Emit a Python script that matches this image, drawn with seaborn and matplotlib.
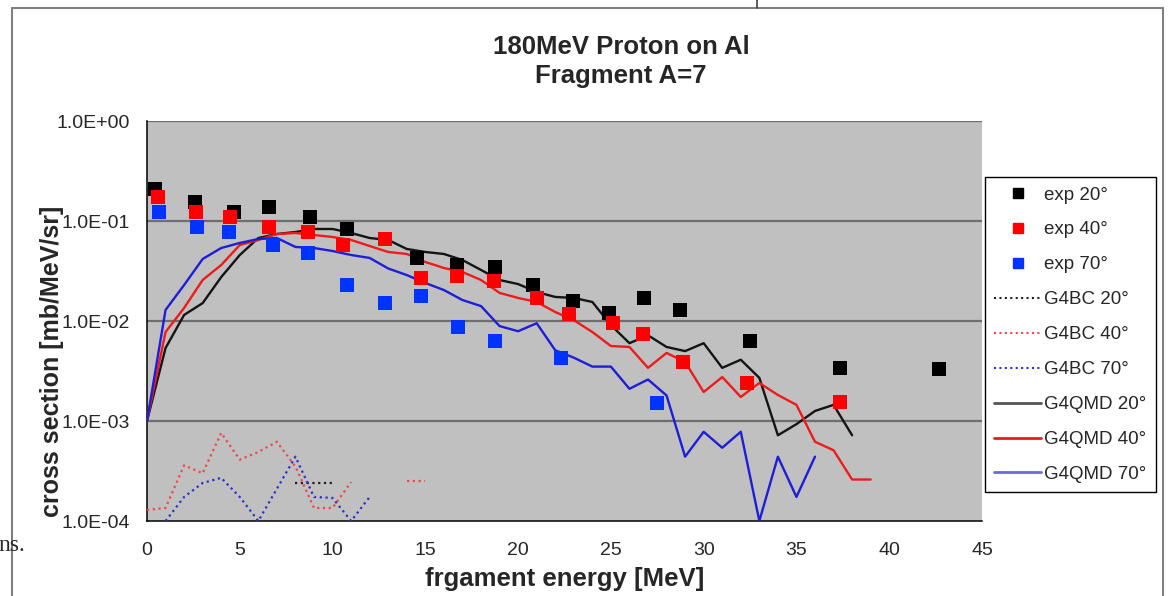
import numpy as np
import pandas as pd
import matplotlib
matplotlib.use("Agg")
import matplotlib.pyplot as plt
import seaborn as sns
from matplotlib.lines import Line2D

# ---------------- data ----------------
exp20_x = [0.43, 2.6, 4.71, 6.6, 8.77, 10.77, 14.56, 16.73, 18.73, 20.79, 22.96, 24.91, 26.8, 28.7, 32.5, 37.36, 42.66]
exp20_y = [0.209, 0.155, 0.123, 0.138, 0.110, 0.083, 0.043, 0.036, 0.035, 0.023, 0.016, 0.012, 0.017, 0.0129, 0.0063, 0.0034, 0.0033]

exp40_x = [0.6, 2.65, 4.49, 6.6, 8.66, 10.56, 12.83, 14.78, 16.73, 18.68, 21.0, 22.74, 25.12, 26.75, 28.86, 32.32, 37.36]
exp40_y = [0.174, 0.123, 0.110, 0.087, 0.078, 0.058, 0.066, 0.027, 0.028, 0.025, 0.017, 0.0117, 0.0095, 0.0074, 0.0039, 0.0024, 0.00155]

exp70_x = [0.65, 2.71, 4.44, 6.77, 8.66, 10.77, 12.83, 14.78, 16.78, 18.73, 22.31, 27.5]
exp70_y = [0.123, 0.087, 0.078, 0.058, 0.048, 0.023, 0.015, 0.0178, 0.0087, 0.0063, 0.0043, 0.0015]

bc20_x = [8, 9, 10]
bc20_y = [2.4e-4, 2.4e-4, 2.4e-4]

bc40_x = [0, 1, 2, 3, 4, 5, 6, 7, 8, 9, 10, 11]
bc40_y = [1.29e-4, 1.35e-4, 3.6e-4, 3.0e-4, 7.6e-4, 4.1e-4, 4.9e-4, 6.2e-4, 3.5e-4, 1.35e-4, 1.35e-4, 2.45e-4]
bc40b_x = [14, 15]
bc40b_y = [2.5e-4, 2.5e-4]

bc70_x = [1, 2, 3, 4, 5, 6, 7, 8, 9, 10, 11, 12]
bc70_y = [1.0e-4, 1.74e-4, 2.4e-4, 2.7e-4, 1.74e-4, 1.0e-4, 2.1e-4, 4.4e-4, 1.74e-4, 1.7e-4, 1.0e-4, 1.74e-4]

qmd20_x = list(range(0, 39))
qmd20_y = [0.0010, 0.00537, 0.0115, 0.0151, 0.0275, 0.0457, 0.0676, 0.0741, 0.0776, 0.0832,
           0.0832, 0.0759, 0.0676, 0.0646, 0.0525, 0.0490, 0.0468, 0.0407, 0.0324, 0.0257,
           0.0234, 0.0195, 0.0174, 0.0170, 0.0155, 0.0091, 0.0060, 0.0072, 0.0055, 0.0050,
           0.0060, 0.0034, 0.0041, 0.0027, 0.00072, 0.00093, 0.00126, 0.00145, 0.00072]

qmd40_x = list(range(0, 40))
qmd40_y = [0.0010, 0.00776, 0.0135, 0.0257, 0.0363, 0.0575, 0.0646, 0.0741, 0.0759, 0.0724,
           0.0692, 0.0646, 0.0562, 0.0490, 0.0468, 0.0389, 0.0339, 0.0309, 0.0257, 0.0191,
           0.0170, 0.0155, 0.0123, 0.0102, 0.00776, 0.00562, 0.0055, 0.0034, 0.00479, 0.00389,
           0.00195, 0.00275, 0.00174, 0.0024, 0.00182, 0.00145, 0.00062, 0.00051, 0.00026, 0.00026]

qmd70_x = list(range(0, 37))
qmd70_y = [0.0010, 0.0129, 0.0229, 0.0417, 0.0537, 0.0603, 0.0661, 0.0676, 0.0550, 0.0537,
           0.0501, 0.0457, 0.0427, 0.0335, 0.0288, 0.0240, 0.0204, 0.0162, 0.0141, 0.0089,
           0.0079, 0.0095, 0.0051, 0.0043, 0.0035, 0.0035, 0.0021, 0.0026, 0.0018, 0.00044,
           0.00078, 0.00054, 0.00078, 0.0001, 0.00044, 0.000174, 0.00044]

xticks = [0, 5, 10, 15, 20, 25, 30, 35, 40, 45]
yticks = [1e-4, 1e-3, 1e-2, 1e-1, 1e0]
ytick_labels = ["1.0E-04", "1.0E-03", "1.0E-02", "1.0E-01", "1.0E+00"]

title_line1 = "180MeV Proton on Al"
title_line2 = "Fragment A=7"
xlabel = "frgament energy [MeV]"
ylabel = "cross section [mb/MeV/sr]"

labels = ["exp 20°", "exp 40°", "exp 70°", "G4BC 20°", "G4BC 40°", "G4BC 70°",
          "G4QMD 20°", "G4QMD 40°", "G4QMD 70°"]

# ---------------- style ----------------
sns.set_style("white")
plt.rcParams['font.family'] = ['Liberation Sans', 'DejaVu Sans']

W, H = 1169, 596
fig = plt.figure(figsize=(W / 100, H / 100), dpi=100)
fig.patch.set_facecolor("white")

L, R, T, B = 147, 982, 121, 521
ax = fig.add_axes([L / W, 1 - B / H, (R - L) / W, (B - T) / H])
ax.set_facecolor("#C0C0C0")

C_BLACK, C_RED, C_BLUE = "#000000", "#FF0000", "#0033FF"
L_BLACK, L_RED, L_BLUE = "#141414", "#EE1B1B", "#1E1ED8"
D_BLACK, D_RED, D_BLUE = "#202020", "#F04848", "#3030C8"

# grid lines at decades
for yv in yticks[1:]:
    ax.axhline(yv, color="#6E6E6E", lw=1.6, zorder=1)

dot = (0, (1, 1.6))
sns.lineplot(x=bc20_x, y=bc20_y, ax=ax, color=D_BLACK, lw=1.6, linestyle=dot, zorder=3)
sns.lineplot(x=bc40_x, y=bc40_y, ax=ax, color=D_RED, lw=1.6, linestyle=dot, zorder=3)
sns.lineplot(x=bc40b_x, y=bc40b_y, ax=ax, color=D_RED, lw=1.6, linestyle=dot, zorder=3)
sns.lineplot(x=bc70_x, y=bc70_y, ax=ax, color=D_BLUE, lw=1.6, linestyle=dot, zorder=3)

sns.lineplot(x=qmd20_x, y=qmd20_y, ax=ax, color=L_BLACK, lw=1.7, zorder=4)
sns.lineplot(x=qmd40_x, y=qmd40_y, ax=ax, color=L_RED, lw=1.7, zorder=4)
sns.lineplot(x=qmd70_x, y=qmd70_y, ax=ax, color=L_BLUE, lw=1.7, zorder=4)

sns.scatterplot(x=exp20_x, y=exp20_y, ax=ax, color=C_BLACK, marker="s", s=110, linewidth=0, zorder=5)
sns.scatterplot(x=exp40_x, y=exp40_y, ax=ax, color=C_RED, marker="s", s=110, linewidth=0, zorder=6)
sns.scatterplot(x=exp70_x, y=exp70_y, ax=ax, color=C_BLUE, marker="s", s=110, linewidth=0, zorder=7)

ax.set_yscale("log")
ax.set_xlim(0, 45)
ax.set_ylim(1e-4, 1)
ax.set_xticks(xticks)
ax.set_xticklabels([str(v) for v in xticks])
ax.set_yticks(yticks)
ax.set_yticklabels(ytick_labels)
ax.minorticks_off()
ax.tick_params(axis="y", direction="out", length=6, width=1, color="black",
               labelsize=14, pad=6)
ax.tick_params(axis="x", direction="out", length=5, width=1, color="black",
               labelsize=14, pad=10)
for side in ["top", "right"]:
    ax.spines[side].set_visible(False)
for side in ["left", "bottom"]:
    ax.spines[side].set_color("black")
    ax.spines[side].set_linewidth(1.1)
ax.set_xlabel(xlabel, fontsize=18.5, fontweight="bold", labelpad=6)
ax.set_ylabel(ylabel, fontsize=18, fontweight="bold")
ax.yaxis.set_label_coords((64 - L) / (R - L), (B - 361) / (B - T))

fig.text(621 / W, 1 - 54 / H, title_line1, ha="center", va="baseline",
         fontsize=18.5, fontweight="bold")
fig.text(621 / W, 1 - 83 / H, title_line2, ha="center", va="baseline",
         fontsize=18.5, fontweight="bold")

# legend
handles = [
    Line2D([], [], ls="none", marker="s", ms=7, color=C_BLACK),
    Line2D([], [], ls="none", marker="s", ms=7, color=C_RED),
    Line2D([], [], ls="none", marker="s", ms=7, color=C_BLUE),
    Line2D([], [], ls=dot, lw=1.5, color=D_BLACK),
    Line2D([], [], ls=dot, lw=1.5, color=D_RED),
    Line2D([], [], ls=dot, lw=1.5, color=D_BLUE),
    Line2D([], [], lw=2, color="#555555"),
    Line2D([], [], lw=2, color=L_RED),
    Line2D([], [], lw=2, color="#6A6AD8"),
]
leg = fig.legend(handles, labels, loc="upper left",
                 bbox_to_anchor=(985 / W, 1 - 177 / H), fontsize=13.5,
                 frameon=True, fancybox=False, framealpha=1, edgecolor="black",
                 handlelength=2.5, handletextpad=0.15, labelspacing=0.95,
                 borderpad=0.5, borderaxespad=0)
leg.get_frame().set_linewidth(1.0)

# chart-area border and page remnants
bc = "#808080"
fig.add_artist(Line2D([12 / W, 12 / W], [0, 1 - 8 / H], color=bc, lw=1.5, transform=fig.transFigure))
fig.add_artist(Line2D([12 / W, 1163 / W], [1 - 8 / H, 1 - 8 / H], color=bc, lw=1.5, transform=fig.transFigure))
fig.add_artist(Line2D([1163 / W, 1163 / W], [0, 1 - 8 / H], color=bc, lw=1.5, transform=fig.transFigure))
fig.add_artist(Line2D([757 / W, 757 / W], [1 - 8 / H, 1], color="#404040", lw=1.2, transform=fig.transFigure))
fig.text(-2 / W, 1 - 551 / H, "ns.", ha="left", va="baseline", fontsize=17,
         family=["Liberation Serif", "DejaVu Serif"])

fig.savefig("out.png", dpi=100)
